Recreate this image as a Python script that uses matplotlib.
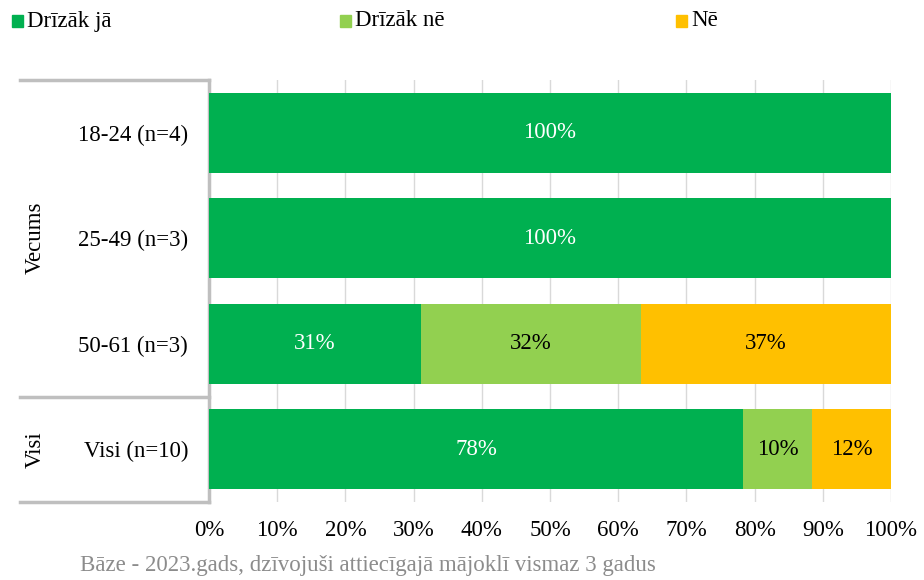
import matplotlib
matplotlib.use("Agg")
import matplotlib.pyplot as plt
from matplotlib.lines import Line2D
from matplotlib.patches import Rectangle

plt.rcParams['font.family'] = ['Liberation Serif', 'DejaVu Serif']

categories = ["18-24 (n=4)", "25-49 (n=3)", "50-61 (n=3)", "Visi (n=10)"]
series_names = ["Drīzāk jā", "Drīzāk nē", "Nē"]
series_values = [
    [100.0, 100.0, 31.1, 78.3],
    [0.0, 0.0, 32.2, 10.1],
    [0.0, 0.0, 36.7, 11.6],
]
colors = ["#00B050", "#92D050", "#FFC000"]
text_colors = ["white", "black", "black"]
groups = [("Vecums", 0, 2), ("Visi", 3, 3)]
xticks = [0, 10, 20, 30, 40, 50, 60, 70, 80, 90, 100]
footer = "Bāze - 2023.gads, dzīvojuši attiecīgajā mājoklī vismaz 3 gadus"

FS = 16.5
W, H = 924, 580
fig = plt.figure(figsize=(W / 100, H / 100), dpi=100)
ax_l, ax_r, ax_t, ax_b = 209, 891, 80, 502
ax = fig.add_axes([ax_l / W, 1 - ax_b / H, (ax_r - ax_l) / W, (ax_b - ax_t) / H])

n = len(categories)
ys = list(range(n))
left = [0.0] * n
for name, vals, c, tc in zip(series_names, series_values, colors, text_colors):
    ax.barh(ys, vals, left=left, height=0.76, color=c, zorder=3)
    for y, v, l in zip(ys, vals, left):
        if v > 0:
            ax.text(l + v / 2, y, f"{round(v):.0f}%", ha="center", va="center",
                    color=tc, fontsize=FS, zorder=4)
    left = [a + b for a, b in zip(left, vals)]

ax.set_xlim(0, 100)
ax.set_ylim(n - 0.5, -0.5)
ax.set_xticks(xticks)
ax.set_xticklabels([f"{t}%" for t in xticks], fontsize=FS)
ax.tick_params(axis="x", length=0, pad=13)
ax.set_yticks(ys)
ax.set_yticklabels(categories, fontsize=FS)
ax.tick_params(axis="y", length=0, pad=15)
ax.grid(axis="x", color="#D9D9D9", linewidth=1, zorder=0)
for s in ["top", "right", "bottom"]:
    ax.spines[s].set_visible(False)
ax.spines["left"].set_color("#BFBFBF")
ax.spines["left"].set_linewidth(2.5)

def fx(x):
    return x / W

def fy(y):
    return 1 - y / H

row_h = (ax_b - ax_t) / n
gc = "#BFBFBF"
for yy in [ax_t, ax_t + 3 * row_h, ax_b]:
    fig.add_artist(Line2D([fx(20), fx(ax_l)], [fy(yy), fy(yy)], color=gc, linewidth=2.5))
for gname, i0, i1 in groups:
    yc = ax_t + (i0 + i1 + 1) / 2 * row_h
    fig.text(fx(35), fy(yc), gname, rotation=90, ha="center", va="center", fontsize=FS)

# legend
leg_x = [12, 340, 676]
for name, c, lx in zip(series_names, colors, leg_x):
    fig.add_artist(Rectangle((fx(lx), fy(27)), 11 / W, 12 / H, color=c))
    fig.text(fx(lx + 15), fy(21), name, ha="left", va="center", fontsize=FS)

fig.text(fx(80), fy(565), footer, ha="left", va="center", fontsize=FS, color="#8C8C8C")

fig.savefig("out.png", dpi=100)
